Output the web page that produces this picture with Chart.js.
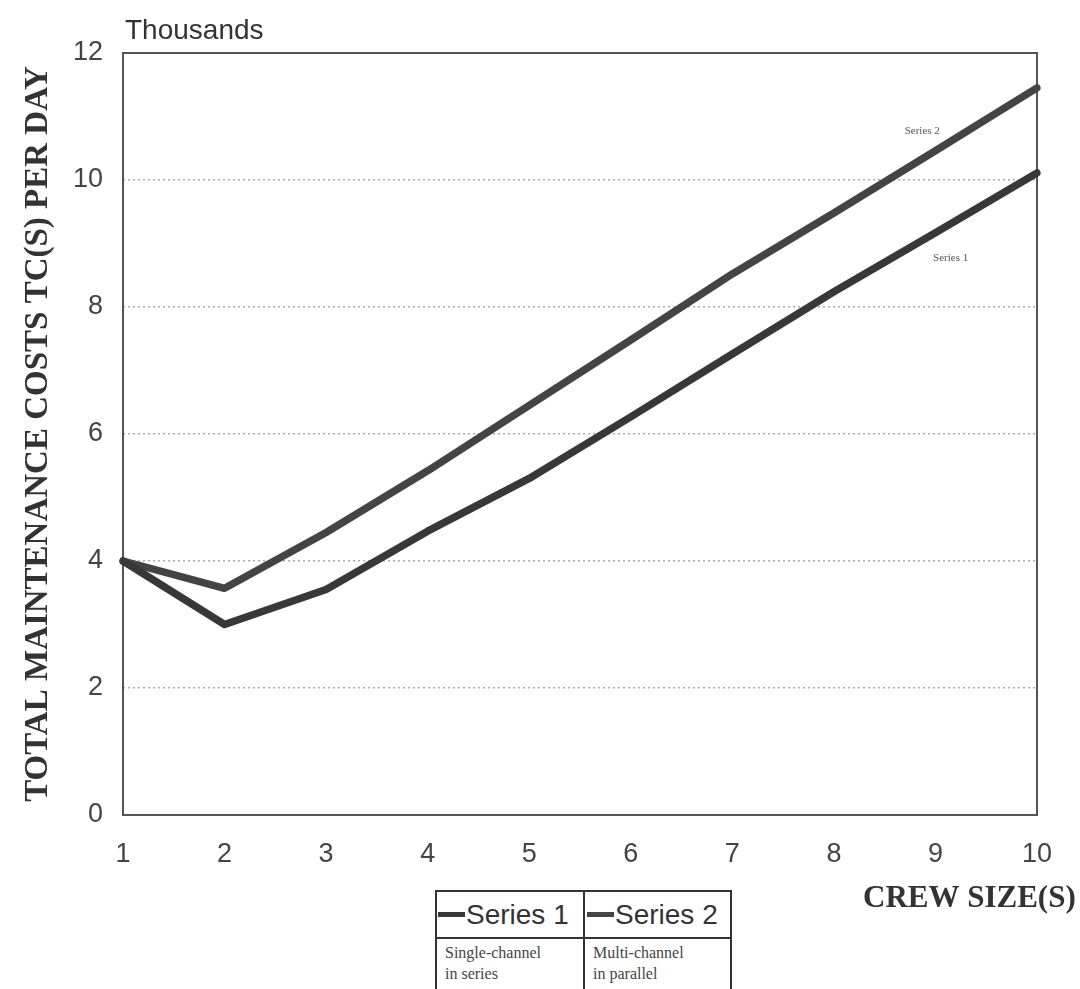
<!DOCTYPE html>
<html>
<head>
<meta charset="utf-8">
<title>Total maintenance costs by crew size</title>
<script src="https://cdn.jsdelivr.net/npm/chart.js@4.4.1/dist/chart.umd.min.js"></script>
<style>
    html, body { margin: 0; padding: 0; background: #fff; }
    #wrap { position: relative; width: 1080px; height: 989px; overflow: hidden; }
    #costChart { position: absolute; left: 0; top: 0; }
    .legend-box {
        position: absolute; left: 435px; top: 890px; width: 297px; height: 120px;
        border: 2px solid #333; box-sizing: border-box; background: #fff;
    }
    .legend-box .vline { position: absolute; left: 146px; top: 0; bottom: 0; border-left: 2px solid #333; }
    .legend-box .hline { position: absolute; left: 0; right: 0; top: 45px; border-top: 2px solid #333; }
    .legend-cell { position: absolute; top: 0; height: 45px; display: flex; align-items: center; }
    .legend-cell .swatch { width: 27px; height: 5px; margin-right: 1px; }
    .legend-cell span { font-family: "Liberation Sans", Arial, sans-serif; font-size: 28px; color: #333; }
    .legend-note {
        position: absolute; top: 50px; font-family: "Liberation Serif", "Times New Roman", serif;
        font-size: 16px; line-height: 21px; color: #444;
    }
</style>
</head>
<body>
<div id="wrap">
    <canvas id="costChart" width="1080" height="989"></canvas>
    <div class="legend-box">
        <div class="vline"></div>
        <div class="hline"></div>
        <div class="legend-cell" style="left:1px"><div class="swatch" id="sw1"></div><span id="lg1"></span></div>
        <div class="legend-cell" style="left:150px"><div class="swatch" id="sw2"></div><span id="lg2"></span></div>
        <div class="legend-note" style="left:8px" id="nt1"></div>
        <div class="legend-note" style="left:156px" id="nt2"></div>
    </div>
</div>
<script>
// Crew sizes on the x axis
const crewSizes = ['1', '2', '3', '4', '5', '6', '7', '8', '9', '10'];

// Total maintenance cost per day, in thousands
const singleChannel = [4.0, 3.0, 3.55, 4.47, 5.3, 6.27, 7.26, 8.24, 9.17, 10.11];
const multiChannel = [4.0, 3.57, 4.45, 5.42, 6.45, 7.48, 8.52, 9.48, 10.46, 11.45];

const seriesNames = ['Series 1', 'Series 2'];
const seriesNotes = [['Single-channel', 'in series'], ['Multi-channel', 'in parallel']];
const seriesColors = ['#383838', '#444444'];

// y ticks every 2 thousand
const yTicks = [0, 2, 4, 6, 8, 10, 12];

const tickFont = { family: '"Liberation Sans", Arial, sans-serif', size: 27 };
const serifFace = '"Liberation Serif", "Times New Roman", serif';

// Frame round the plot, plus the free-floating texts
const framePlugin = {
    id: 'frame',
    beforeDatasetsDraw(chart) {
        const { ctx, chartArea: a } = chart;
        ctx.save();
        ctx.strokeStyle = '#555';
        ctx.lineWidth = 2;
        ctx.strokeRect(a.left, a.top, a.right - a.left, a.bottom - a.top);
        ctx.restore();
    },
    afterDraw(chart) {
        const { ctx, chartArea: a } = chart;
        const xs = chart.scales.x, ys = chart.scales.y;
        ctx.save();
        ctx.fillStyle = '#333';
        ctx.textBaseline = 'alphabetic';

        ctx.font = '28px "Liberation Sans", Arial, sans-serif';
        ctx.textAlign = 'left';
        ctx.fillText('Thousands', a.left + 2, 39);

        ctx.font = 'bold 31px ' + serifFace;
        ctx.fillText('CREW SIZE(S)', 863, 907);

        // small in-plot series tags
        ctx.font = '11px ' + serifFace;
        ctx.fillStyle = '#555';
        ctx.textAlign = 'center';
        ctx.textBaseline = 'middle';
        ctx.fillText('Series 2', xs.getPixelForValue(7.87), ys.getPixelForValue(10.77));
        ctx.fillText('Series 1', xs.getPixelForValue(8.15), ys.getPixelForValue(8.77));
        ctx.restore();
    }
};

function buildLegend() {
    seriesNames.forEach((name, i) => {
        document.getElementById('lg' + (i + 1)).textContent = name;
        document.getElementById('sw' + (i + 1)).style.background = seriesColors[i];
        document.getElementById('nt' + (i + 1)).innerHTML = seriesNotes[i].join('<br>');
    });
}

function initChart() {
    const ctx = document.getElementById('costChart').getContext('2d');
    new Chart(ctx, {
        type: 'line',
        data: {
            labels: crewSizes,
            datasets: [
                { label: seriesNames[0], data: singleChannel, borderColor: seriesColors[0] },
                { label: seriesNames[1], data: multiChannel, borderColor: seriesColors[1] }
            ]
        },
        options: {
            responsive: false,
            animation: false,
            layout: { padding: { top: 53, right: 43, left: 0, bottom: 0 } },
            elements: {
                line: { borderWidth: 7.5, tension: 0, borderCapStyle: 'round', borderJoinStyle: 'round' },
                point: { radius: 0 }
            },
            plugins: {
                legend: { display: false },
                tooltip: { enabled: false }
            },
            scales: {
                x: {
                    afterFit: (s) => { s.height = 174; },
                    grid: { display: false, drawTicks: false },
                    border: { display: false },
                    ticks: { color: '#444', font: tickFont, padding: 23, maxRotation: 0 }
                },
                y: {
                    min: 0,
                    max: 12,
                    afterFit: (s) => { s.width = 123; },
                    afterBuildTicks: (s) => { s.ticks = yTicks.map(v => ({ value: v })); },
                    grid: {
                        drawTicks: false,
                        color: (c) => (c.tick && (c.tick.value === 0 || c.tick.value === 12)) ? 'rgba(0,0,0,0)' : '#aaaaaa',
                        lineWidth: 1.5
                    },
                    border: { display: false, dash: [2, 3] },
                    ticks: { color: '#444', font: tickFont, padding: 20 },
                    title: {
                        display: true,
                        text: 'TOTAL MAINTENANCE COSTS TC(S) PER DAY',
                        color: '#333',
                        font: { family: serifFace, size: 33, weight: 'bold' },
                        padding: { top: 19, bottom: 0 }
                    }
                }
            }
        },
        plugins: [framePlugin]
    });
}

document.addEventListener('DOMContentLoaded', () => {
    buildLegend();
    initChart();
});
</script>
</body>
</html>
